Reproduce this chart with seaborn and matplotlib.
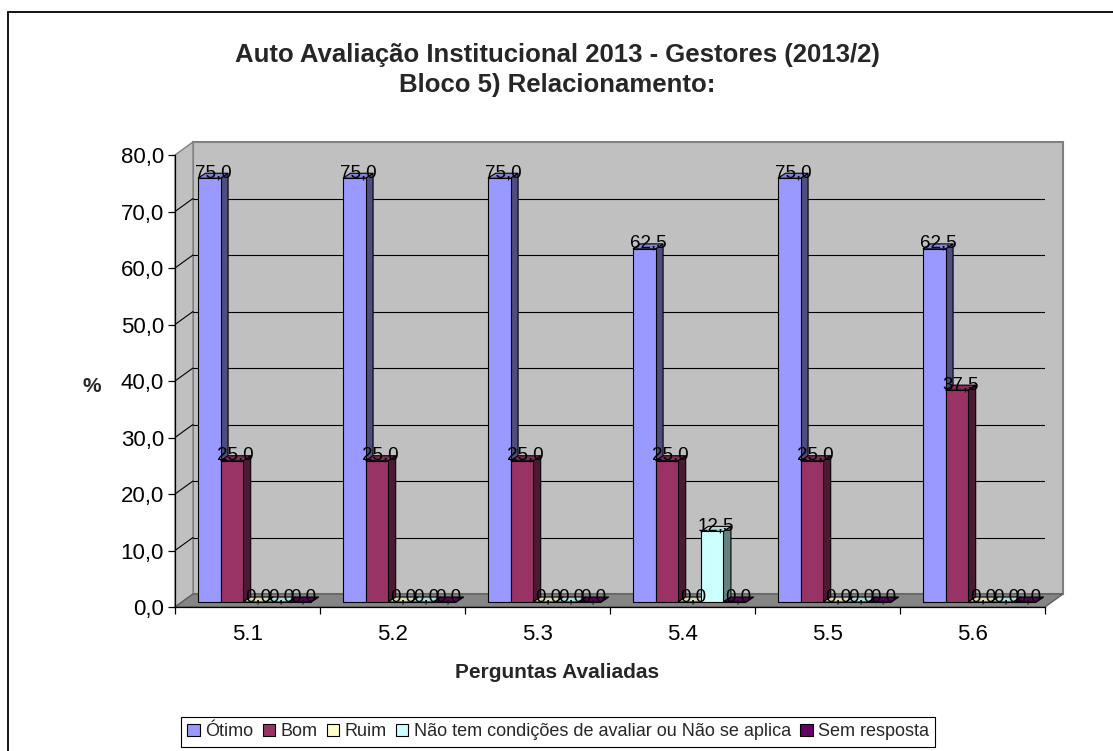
import numpy as np
import pandas as pd
import matplotlib
matplotlib.use("Agg")
import matplotlib.pyplot as plt
import matplotlib.colors as mcolors
from matplotlib.patches import Polygon, Patch
from matplotlib.lines import Line2D
from matplotlib.transforms import ScaledTranslation, IdentityTransform
import seaborn as sns

# ---- data -------------------------------------------------------------
questions = ["5.1", "5.2", "5.3", "5.4", "5.5", "5.6"]
series = ["Ótimo", "Bom", "Ruim",
          "Não tem condições de avaliar ou Não se aplica", "Sem resposta"]
otimo = [75.0, 75.0, 75.0, 62.5, 75.0, 62.5]
bom = [25.0, 25.0, 25.0, 25.0, 25.0, 37.5]
ruim = [0.0, 0.0, 0.0, 0.0, 0.0, 0.0]
nao_tem = [0.0, 0.0, 0.0, 12.5, 0.0, 0.0]
sem_resposta = [0.0, 0.0, 0.0, 0.0, 0.0, 0.0]
colors = ["#9999FF", "#993366", "#FFFFCC", "#CCFFFF", "#660066"]
y_ticks = [0, 10, 20, 30, 40, 50, 60, 70, 80]

title_1 = "Auto Avaliação Institucional 2013 - Gestores (2013/2)"
title_2 = "Bloco 5) Relacionamento:"
x_title = "Perguntas Avaliadas"
y_title = "%"

values = [otimo, bom, ruim, nao_tem, sem_resposta]
df = pd.DataFrame({
    "Pergunta": np.tile(questions, len(series)),
    "Resposta": np.repeat(series, len(questions)),
    "Percentual": np.concatenate(values),
})

# ---- figure -----------------------------------------------------------
sns.set_theme(style="white")
plt.rcParams["font.family"] = ["Liberation Sans", "DejaVu Sans"]

W, H = 1113, 751
fig = plt.figure(figsize=(W / 100, H / 100), dpi=100)
fig.patch.set_facecolor("white")

ax = fig.add_axes([175 / W, (H - 607) / H, 870 / W, 452 / H])
ax.set_facecolor("none")

sns.barplot(data=df, x="Pergunta", y="Percentual", hue="Resposta",
            hue_order=series, order=questions, palette=colors,
            width=0.78, edgecolor="black", linewidth=0.8,
            saturation=1, legend=False, ax=ax)
ax.set_xlim(-0.5, 5.5)
ax.set_ylim(0, 80)

# 3-D look: wall depth and bar depth in pixels (right, up)
WALL = (18, 13)
BAR_SHIFT = (7, 5)
BAR_DEPTH = (7.5, 5)


def px(x, y, d=(0, 0)):
    p = ax.transData.transform((x, y))
    return (p[0] + d[0], p[1] + d[1])


def add_poly(pts, fc, ec="black", lw=0.8, z=1):
    poly = Polygon(pts, closed=True, facecolor=fc, edgecolor=ec,
                   linewidth=lw, transform=IdentityTransform(),
                   zorder=z, clip_on=False)
    ax.add_patch(poly)


x0, x1 = -0.5, 5.5
# back wall
add_poly([px(x0, 0, WALL), px(x1, 0, WALL), px(x1, 80, WALL), px(x0, 80, WALL)],
         "#C0C0C0", ec="#808080", lw=1.5, z=0.3)
# left side wall
add_poly([px(x0, 0), px(x0, 0, WALL), px(x0, 80, WALL), px(x0, 80)],
         "#C0C0C0", ec="#808080", lw=1.0, z=0.35)
# floor
add_poly([px(x0, 0), px(x1, 0), px(x1, 0, WALL), px(x0, 0, WALL)],
         "#858585", ec="#606060", lw=1.0, z=0.4)

# gridlines on the walls
for v in y_ticks[1:-1]:
    a, b = px(x0, v, WALL), px(x1, v, WALL)
    ax.add_line(Line2D([a[0], b[0]], [a[1], b[1]], color="black", lw=0.8,
                       transform=IdentityTransform(), zorder=0.5))
    c = px(x0, v)
    ax.add_line(Line2D([c[0], a[0]], [c[1], a[1]], color="black", lw=0.8,
                       transform=IdentityTransform(), zorder=0.5))

# bars: front face drawn by seaborn, side and top faces added as polygons
shift = ScaledTranslation(BAR_SHIFT[0] / 100, BAR_SHIFT[1] / 100,
                          fig.dpi_scale_trans)
labels = []
for i, cont in enumerate(ax.containers):
    base = mcolors.to_rgb(colors[i])
    side_c = tuple(c * 0.5 for c in base)
    top_c = tuple(c * 0.85 for c in base)
    for bar in cont.patches:
        bx, bw, bh = bar.get_x(), bar.get_width(), bar.get_height()
        bar.set_transform(ax.transData + shift)
        bar.set_zorder(2 + i * 0.1 + 0.05)
        bar.set_clip_on(False)
        d2 = (BAR_SHIFT[0] + BAR_DEPTH[0], BAR_SHIFT[1] + BAR_DEPTH[1])
        # right side face
        add_poly([px(bx + bw, 0, BAR_SHIFT), px(bx + bw, 0, d2),
                  px(bx + bw, bh, d2), px(bx + bw, bh, BAR_SHIFT)],
                 side_c, z=2 + i * 0.1)
        # top face
        add_poly([px(bx, bh, BAR_SHIFT), px(bx + bw, bh, BAR_SHIFT),
                  px(bx + bw, bh, d2), px(bx, bh, d2)],
                 top_c, z=2 + i * 0.1 + 0.01)
        cx, cy = px(bx + bw / 2, bh, (BAR_SHIFT[0] + BAR_DEPTH[0] / 2,
                                      BAR_SHIFT[1] + BAR_DEPTH[1] / 2 + 3))
        labels.append((cx, cy, f"{bh:.1f}".replace(".", ",")))

for cx, cy, s in labels:
    ax.text(cx, cy, s, transform=IdentityTransform(), ha="center",
            va="center", fontsize=13.5, color="black", zorder=10)

# axes
for side in ["top", "right"]:
    ax.spines[side].set_visible(False)
for side in ["left", "bottom"]:
    ax.spines[side].set_color("black")
    ax.spines[side].set_linewidth(0.9)
    ax.spines[side].set_zorder(5)

ax.set_yticks(y_ticks)
ax.set_yticklabels([f"{v:.1f}".replace(".", ",") for v in y_ticks])
ax.tick_params(axis="y", direction="out", length=5, width=0.9,
               colors="black", labelsize=16, pad=3, left=True)

ax.set_xticks(np.arange(-0.5, 6, 1))
ax.set_xticklabels([])
ax.set_xticks(range(len(questions)), minor=True)
ax.set_xticklabels(questions, minor=True)
ax.tick_params(axis="x", which="major", direction="out", length=5,
               width=0.9, colors="black", bottom=True)
ax.tick_params(axis="x", which="minor", length=0, labelsize=16, pad=12,
               labelcolor="black")
ax.set_xlabel("")
ax.set_ylabel("")

# titles
fig.text(557 / W, 1 - 55 / H, title_1, ha="center", va="center",
         fontsize=18.5, fontweight="bold")
fig.text(557 / W, 1 - 85 / H, title_2, ha="center", va="center",
         fontsize=18.5, fontweight="bold")
fig.text(557 / W, 1 - 673 / H, x_title, ha="center", va="center",
         fontsize=15, fontweight="bold")
fig.text(92 / W, 1 - 386 / H, y_title, ha="center", va="center",
         fontsize=15, fontweight="bold")

# legend
handles = [Patch(facecolor=c, edgecolor="black", linewidth=0.8) for c in colors]
leg = fig.legend(handles, series, loc="upper left",
                 bbox_to_anchor=(181 / W, 1 - 717 / H), ncol=5,
                 fontsize=13, frameon=True, fancybox=False, framealpha=1,
                 edgecolor="black", handlelength=0.7, handleheight=0.7,
                 handletextpad=0.3, columnspacing=0.5, borderpad=0.35,
                 borderaxespad=0)
leg.get_frame().set_linewidth(0.8)

# chart border (top and left edges)
fig.add_artist(Line2D([8 / W, 1.0], [1 - 12 / H, 1 - 12 / H],
                      transform=fig.transFigure, color="black", lw=1.3))
fig.add_artist(Line2D([8 / W, 8 / W], [1 - 12 / H, 0.0],
                      transform=fig.transFigure, color="black", lw=1.3))

fig.savefig("out.png", dpi=100)
